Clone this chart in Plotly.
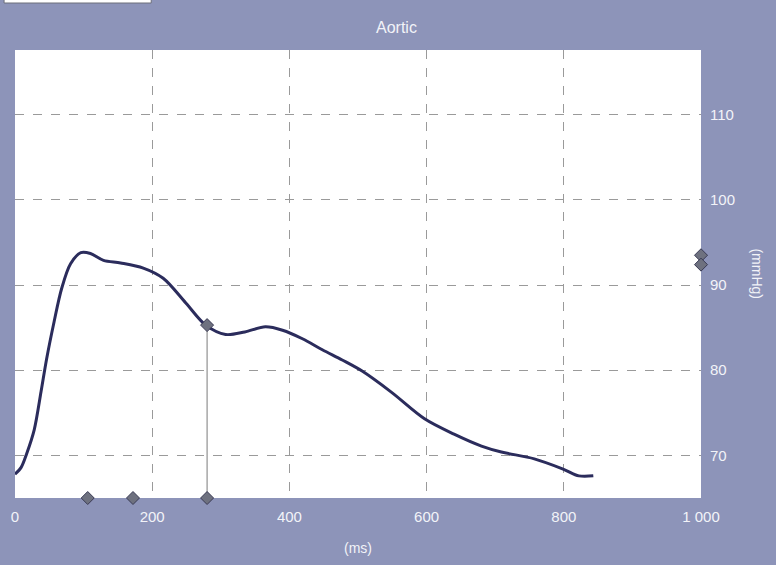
import plotly.graph_objects as go

# ---- data ----
time_ms = [0, 9, 17, 28, 38, 46, 57, 68, 81, 96, 110, 129, 154, 187, 216, 249,
           278, 307, 335, 365, 390, 419, 448, 477, 506, 549, 597, 640, 680,
           709, 757, 799, 822, 843]
pressure_mmHg = [67.8, 68.6, 70.2, 73.0, 77.5, 81.3, 85.7, 89.6, 92.5, 93.8,
                 93.7, 92.9, 92.6, 92.0, 90.8, 87.9, 85.3, 84.2, 84.5, 85.1,
                 84.7, 83.7, 82.4, 81.2, 79.9, 77.4, 74.3, 72.5, 71.1, 70.4,
                 69.6, 68.4, 67.6, 67.6]

bottom_marker_ms = [106, 172, 280]
cursor_ms = 280
cursor_value = 85.3
right_marker_values = [93.5, 92.4]

x_ticks = [0, 200, 400, 600, 800, 1000]
x_tick_labels = ["0", "200", "400", "600", "800", "1 000"]
y_ticks = [70, 80, 90, 100, 110]
y_tick_labels = ["70", "80", "90", "100", "110"]

X_RANGE = [0, 1000]
Y_RANGE = [65, 117.6]

BG = "#8d94b9"
TXT = "#f2f3f8"
FONT = "Liberation Sans, Arial, sans-serif"

fig = go.Figure()

# cursor vertical line
fig.add_trace(go.Scatter(
    x=[cursor_ms, cursor_ms], y=[Y_RANGE[0], cursor_value],
    mode="lines", line=dict(color="#7a7a7a", width=1),
    hoverinfo="skip", showlegend=False))

# main curve
fig.add_trace(go.Scatter(
    x=time_ms, y=pressure_mmHg, mode="lines",
    line=dict(color="#2b2c5c", width=3, shape="spline", smoothing=0.9),
    showlegend=False))

diamond = dict(symbol="diamond", size=10, color="#6e717f",
               line=dict(color="#3a3b55", width=1))

# markers on the bottom edge
fig.add_trace(go.Scatter(
    x=bottom_marker_ms, y=[Y_RANGE[0]] * len(bottom_marker_ms),
    mode="markers", marker=diamond, cliponaxis=False, showlegend=False))

# cursor marker on curve
fig.add_trace(go.Scatter(
    x=[cursor_ms], y=[cursor_value], mode="markers", marker=diamond,
    cliponaxis=False, showlegend=False))

# markers on the right edge
fig.add_trace(go.Scatter(
    x=[X_RANGE[1]] * len(right_marker_values), y=right_marker_values,
    mode="markers", marker=diamond, cliponaxis=False, showlegend=False))

fig.update_layout(
    width=776, height=565,
    margin=dict(l=11, r=75, t=50, b=67),
    paper_bgcolor=BG, plot_bgcolor="white",
    font=dict(family=FONT, color=TXT, size=14),
    xaxis=dict(range=X_RANGE, tickvals=x_ticks, ticktext=x_tick_labels,
               showgrid=True, gridcolor="#9a9a9a", griddash="dash",
               gridwidth=1, zeroline=False, showline=False,
               ticks="", ticklabelstandoff=8, fixedrange=True,
               tickfont=dict(size=15, color=TXT, family=FONT)),
    yaxis=dict(range=Y_RANGE, tickvals=y_ticks, ticktext=y_tick_labels,
               side="right", showgrid=True, gridcolor="#9a9a9a",
               griddash="dash", gridwidth=1, zeroline=False, showline=False,
               ticks="", ticklabelstandoff=8, fixedrange=True,
               tickfont=dict(size=15, color=TXT, family=FONT)),
    annotations=[
        dict(text="Aortic", xref="paper", yref="paper", x=0.5565, y=1.051,
             showarrow=False, font=dict(size=16, color=TXT, family=FONT),
             xanchor="center", yanchor="middle"),
        dict(text="(ms)", xref="paper", yref="paper", x=0.5, y=-0.112,
             showarrow=False, font=dict(size=14, color=TXT, family=FONT),
             xanchor="center", yanchor="middle"),
        dict(text="(mmHg)", xref="paper", yref="paper", x=1.081, y=0.5,
             showarrow=False, textangle=90,
             font=dict(size=14, color=TXT, family=FONT),
             xanchor="center", yanchor="middle"),
    ],
    shapes=[
        dict(type="rect", xref="paper", yref="paper",
             x0=-11 / 690, x1=137 / 690, y0=(498 - 3) / 448, y1=(498 + 1) / 448,
             fillcolor="white", line=dict(color="#6d6f7a", width=1)),
    ],
)

fig.write_html("out.html")
